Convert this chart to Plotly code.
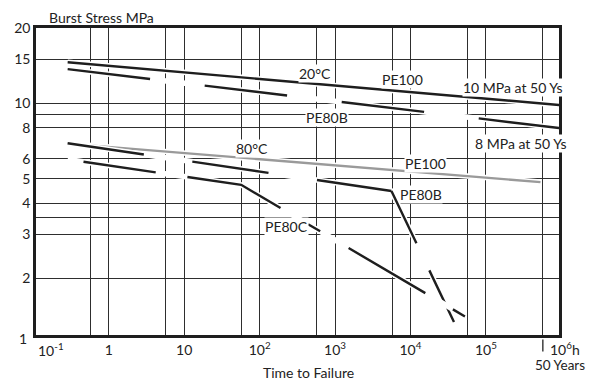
import math
import plotly.graph_objects as go

# ---------------- data (time to failure in h, burst stress in MPa) ----------------
x_tick_vals = [1, 10, 100, 1e3, 1e4, 1e5]
x_tick_text = ["1", "10", "10<sup>2</sup>", "10<sup>3</sup>", "10<sup>4</sup>", "10<sup>5</sup>"]
x_minor_grid = [0.57, 5.7, 57, 570, 5700, 57000, 570000]
y_tick_vals = [2, 3, 4, 5, 6, 8, 10, 15, 20]
y_tick_text = ["2", "3", "4", "5", "6", "8", "10", "15", "20"]
y_minor_grid = [3.5, 9]

pe100_20_t = [0.285, 1e6]
pe100_20_s = [14.6, 9.84]
pe80b_20_t = [0.285, 1e6]
pe80b_20_s = [13.7, 7.95]
pe100_80_t = [0.285, 5.3e5]
pe100_80_s = [6.91, 4.85]
pe80b_80_t = [0.285, 5600, 37800]
pe80b_80_s = [6.93, 4.47, 1.34]
pe80c_80_t = [0.285, 57, 52800]
pe80c_80_s = [5.97, 4.73, 1.41]

label_text = ["20°C", "PE100", "10 MPa at 50 Ys", "PE80B", "8 MPa at 50 Ys",
              "80°C", "PE100", "PE80B", "PE80C"]
label_t = [546, 7940, 2.28e5, 787, 2.86e5, 80, 1.56e4, 1.39e4, 228]
label_s = [13.21, 12.49, 11.56, 8.79, 6.89, 6.58, 5.77, 4.31, 3.22]

# ---------------- styling ----------------
FONT = "Lato"
TXT = "#222222"
BLACK = "#1e1e1e"
GRAY = "#9a9a9a"
GRID = "#2e2e2e"
LW = 2.4
CASE = 5.5

fig = go.Figure()


def add_line(t, s, color, dash="solid", casing=True):
    if casing:
        fig.add_trace(go.Scatter(x=t, y=s, mode="lines",
                                 line=dict(color="white", width=CASE),
                                 hoverinfo="skip", showlegend=False))
    fig.add_trace(go.Scatter(x=t, y=s, mode="lines",
                             line=dict(color=color, width=LW, dash=dash),
                             hoverinfo="skip", showlegend=False))


# 20 °C
add_line(pe100_20_t, pe100_20_s, BLACK)
add_line(pe80b_20_t, pe80b_20_s, BLACK, dash="83px,55px")
# 80 °C
add_line(pe100_80_t, pe100_80_s, GRAY)
fig.add_trace(go.Scatter(x=pe80b_80_t, y=pe80b_80_s, mode="lines",
                         line=dict(color="white", width=CASE),
                         hoverinfo="skip", showlegend=False))
add_line(pe80b_80_t[:2], pe80b_80_s[:2], BLACK, dash="77px,49px", casing=False)
add_line(pe80b_80_t[1:], pe80b_80_s[1:], BLACK, dash="58px,30px", casing=False)
add_line(pe80c_80_t, pe80c_80_s, BLACK,
         dash="0px,16px,73px,32px,100px,32px,14px,33px,89px,32px,15px,60px")

annotations = []
for txt, t, s in zip(label_text, label_t, label_s):
    annotations.append(dict(x=math.log10(t), y=math.log10(s), xref="x", yref="y",
                            text=txt, showarrow=False, bgcolor="white", borderpad=0,
                            font=dict(family=FONT, size=14, color=TXT)))

# axis texts
annotations += [
    dict(x=0.0205, y=1.034, xref="paper", yref="paper", text="Burst Stress MPa",
         xanchor="left", yanchor="middle", showarrow=False,
         font=dict(family=FONT, size=14, color=TXT)),
    dict(x=-0.0128, y=-0.011, xref="paper", yref="paper", text="1",
         xanchor="right", yanchor="middle", showarrow=False,
         font=dict(family=FONT, size=14, color=TXT)),
    dict(x=-0.769, y=-0.047, xref="x", yref="paper", text="10<sup>-1</sup>",
         xanchor="center", yanchor="middle", showarrow=False,
         font=dict(family=FONT, size=14, color=TXT)),
    dict(x=5.824, y=-0.045, xref="x", yref="paper", text="10<sup>6</sup>h",
         xanchor="left", yanchor="middle", showarrow=False,
         font=dict(family=FONT, size=14, color=TXT)),
    dict(x=1.0535, y=-0.098, xref="paper", yref="paper", text="50 Years",
         xanchor="right", yanchor="middle", showarrow=False,
         font=dict(family=FONT, size=13.5, color=TXT)),
    dict(x=0.5216, y=-0.122, xref="paper", yref="paper", text="Time to Failure",
         xanchor="center", yanchor="middle", showarrow=False,
         font=dict(family=FONT, size=14, color=TXT)),
]

fig.update_layout(
    width=592, height=385,
    margin=dict(l=36, r=33, t=28, b=50),
    paper_bgcolor="white", plot_bgcolor="white",
    font=dict(family=FONT, size=14, color=TXT),
    annotations=annotations,
    shapes=[dict(type="line", xref="x", yref="paper", x0=570000, x1=570000,
                 y0=-0.0147, y1=-0.0537, line=dict(color=TXT, width=1.3))],
    showlegend=False,
)

fig.update_xaxes(type="log", range=[-0.965, 5.97],
                 tickmode="array", tickvals=x_tick_vals, ticktext=x_tick_text,
                 minor=dict(tickmode="array", tickvals=x_minor_grid, showgrid=True,
                            gridcolor=GRID, gridwidth=1.3, ticks=""),
                 ticks="", showgrid=True, gridcolor=GRID, gridwidth=1.3,
                 showline=True, mirror=True, linecolor=BLACK, linewidth=2.6,
                 zeroline=False, tickfont=dict(family=FONT, size=14, color=TXT))
fig.update_yaxes(type="log", range=[0.0751, math.log10(20)],
                 tickmode="array", tickvals=y_tick_vals, ticktext=y_tick_text,
                 minor=dict(tickmode="array", tickvals=y_minor_grid, showgrid=True,
                            gridcolor=GRID, gridwidth=1.3, ticks=""),
                 ticks="", showgrid=True, gridcolor=GRID, gridwidth=1.3,
                 showline=True, mirror=True, linecolor=BLACK, linewidth=2.6,
                 zeroline=False, tickfont=dict(family=FONT, size=14, color=TXT))

fig.write_html("out.html", config={"displayModeBar": False},
               post_script="document.body.style.margin='0px';")
